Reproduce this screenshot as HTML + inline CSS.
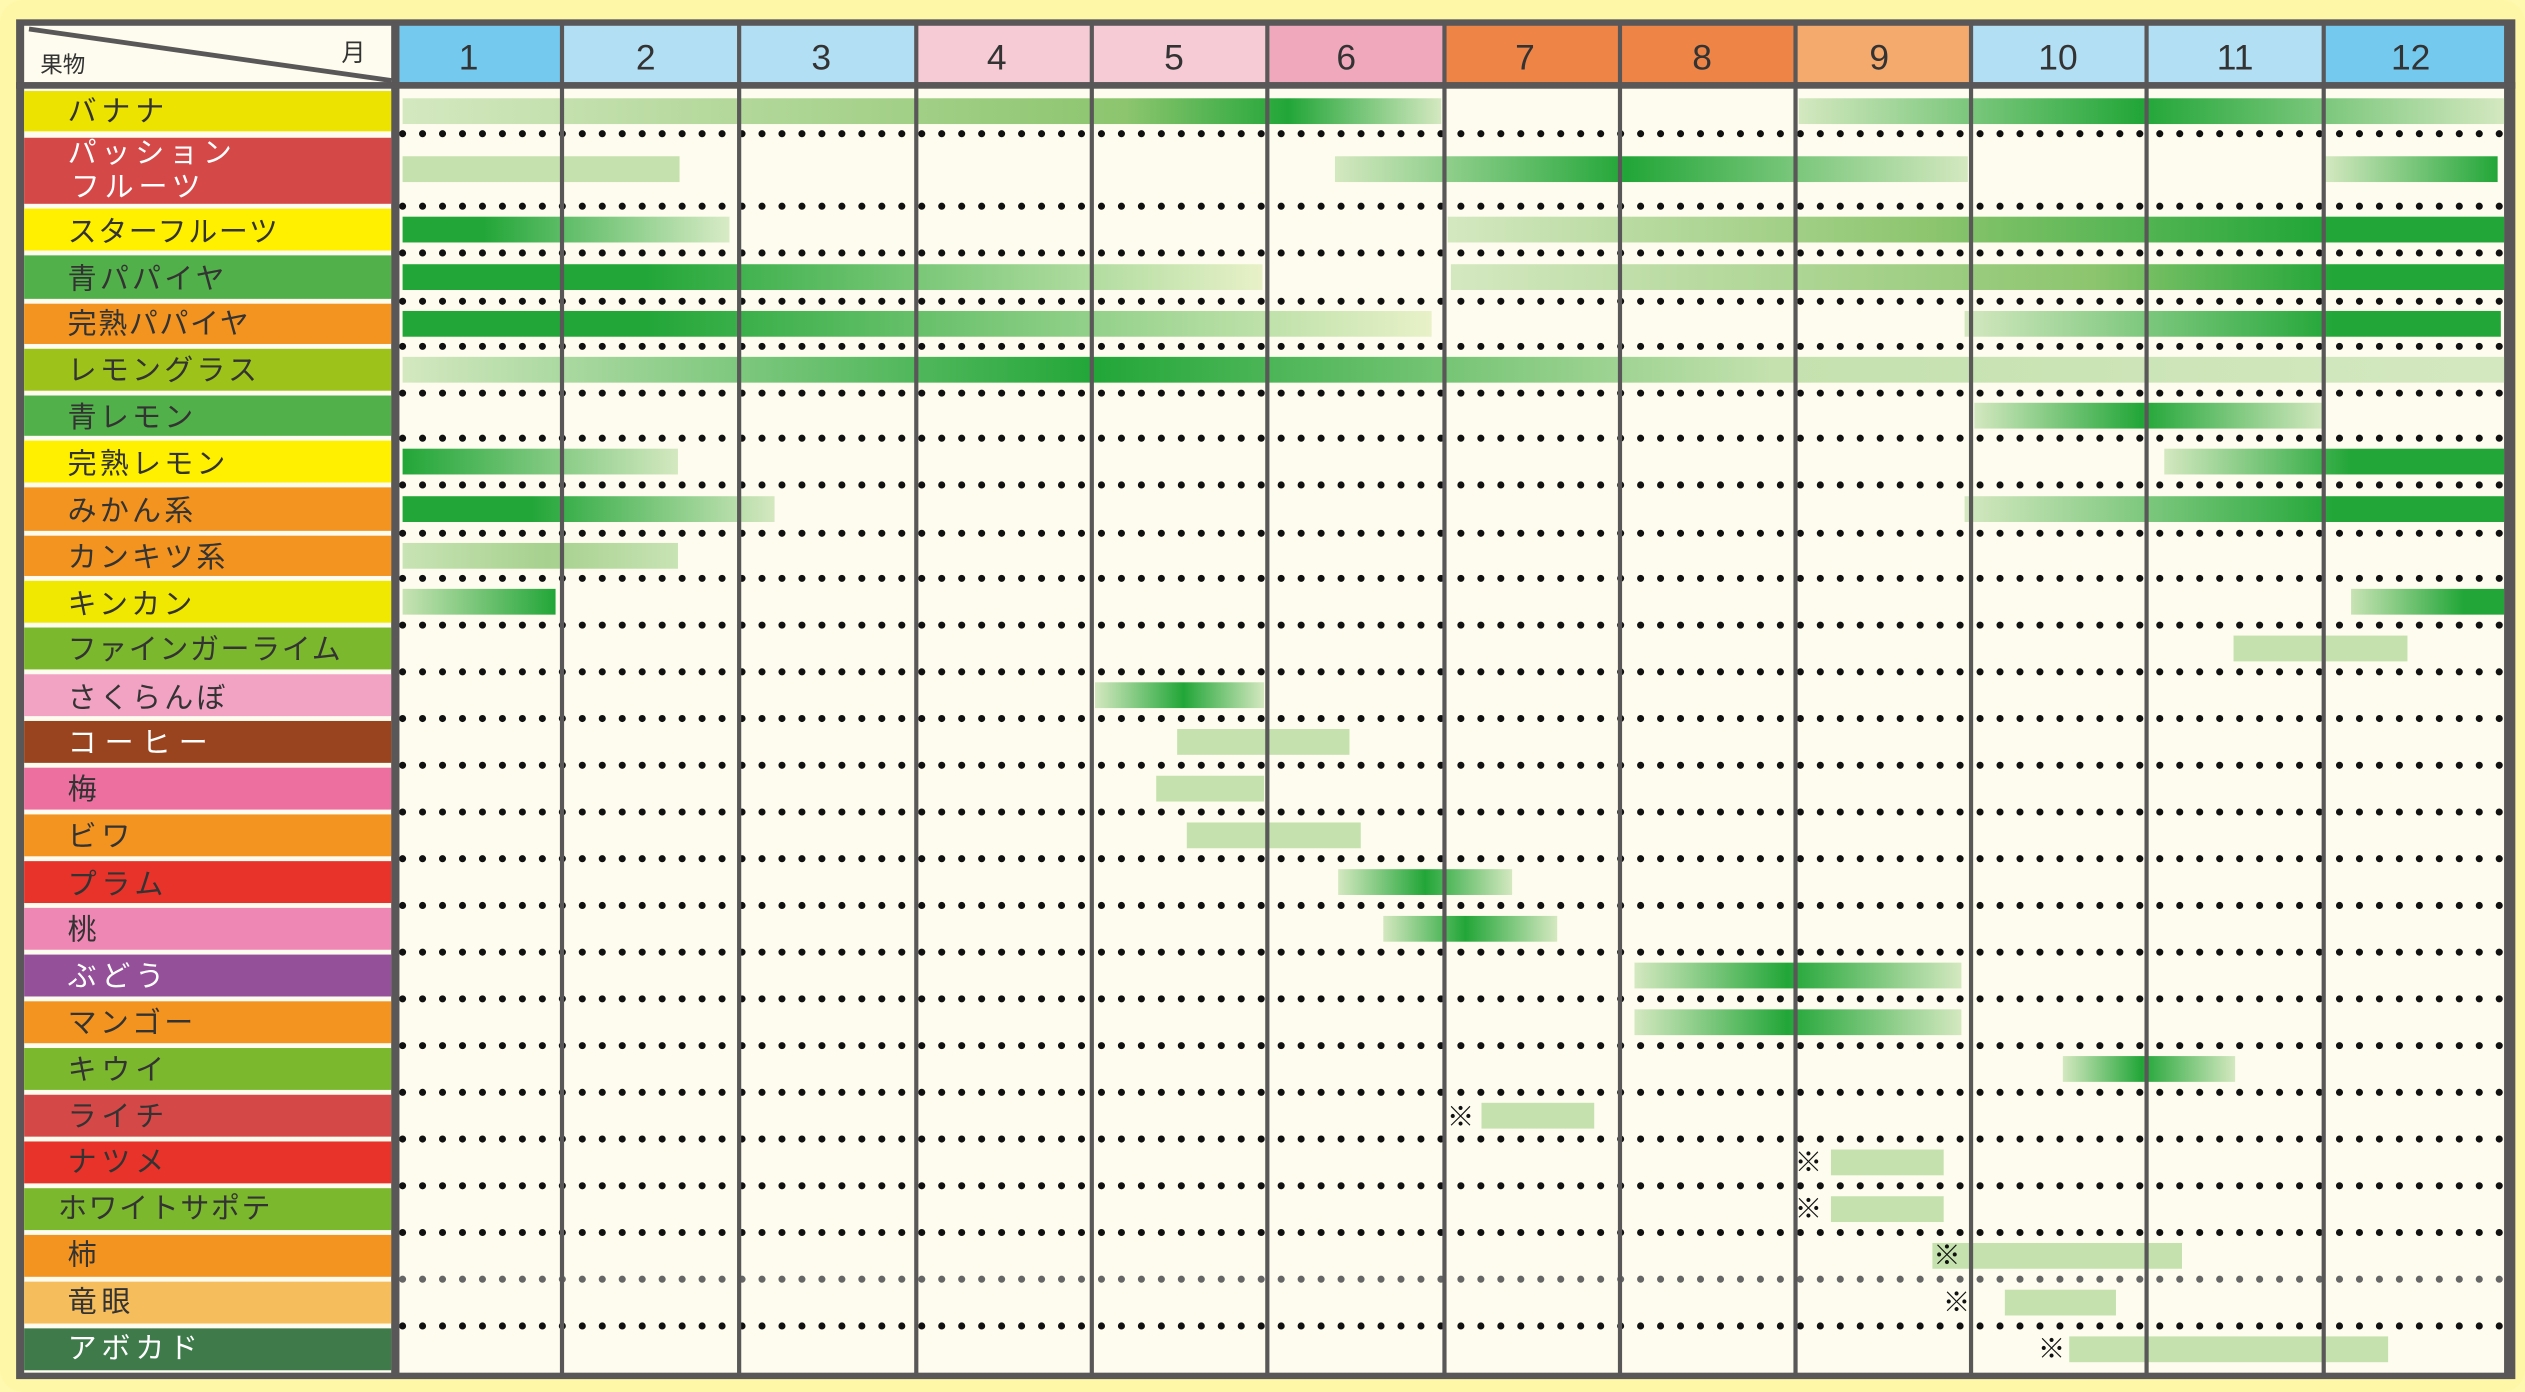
<!DOCTYPE html>
<html><head><meta charset="utf-8"><style>
html,body{margin:0;padding:0;background:#fff9b0;}
svg{display:block;}
text{font-family:"Liberation Sans","Noto Sans CJK JP",sans-serif;}
</style></head><body>
<svg id="s" width="2525" height="1392" viewBox="0 0 1568 864" preserveAspectRatio="none" xmlns="http://www.w3.org/2000/svg">
<defs id="d"></defs>
<rect x="0" y="0" width="1568" height="864" rx="14" fill="#fff7a8"/>
<rect x="10" y="12" width="1552" height="844" fill="#595757"/>
<rect x="15" y="16" width="228" height="35" fill="#fefcee"/>
<line x1="18" y1="18" x2="243" y2="50" stroke="#595757" stroke-width="3"/>
<text x="25" y="45" font-size="14" fill="#333">果物</text>
<text x="212" y="38" font-size="15" fill="#333">月</text>
<rect x="248" y="55" width="1307" height="797" fill="#fefcee"/>
<g id="hdr"></g>
<g id="lab"></g>
<g id="dots"></g>
<g id="bars"></g>
<g id="vl"></g>
<g id="txt" font-size="18" letter-spacing="3" fill="#333">
<text x="42" y="75">バナナ</text>
<text x="42" y="101" fill="#fff">パッション</text>
<text x="44" y="122" fill="#fff">フルーツ</text>
<text x="42" y="150" letter-spacing="1">スターフルーツ</text>
<text x="42" y="179" letter-spacing="2">青パパイヤ</text>
<text x="42" y="207" letter-spacing="1">完熟パパイヤ</text>
<text x="42" y="236" letter-spacing="2">レモングラス</text>
<text x="42" y="265" letter-spacing="2">青レモン</text>
<text x="42" y="294" letter-spacing="2">完熟レモン</text>
<text x="42" y="323" letter-spacing="2">みかん系</text>
<text x="42" y="352" letter-spacing="2">カンキツ系</text>
<text x="42" y="381" letter-spacing="2">キンカン</text>
<text x="42" y="409" letter-spacing="1">ファインガーライム</text>
<text x="42" y="439" letter-spacing="2">さくらんぼ</text>
<text x="42" y="467" fill="#fff" letter-spacing="5">コーヒー</text>
<text x="42" y="496">梅</text>
<text x="42" y="525">ビワ</text>
<text x="42" y="555">プラム</text>
<text x="42" y="583">桃</text>
<text x="42" y="612" fill="#fff">ぶどう</text>
<text x="42" y="641" letter-spacing="2">マンゴー</text>
<text x="42" y="670">キウイ</text>
<text x="42" y="699">ライチ</text>
<text x="42" y="727">ナツメ</text>
<text x="36" y="756" letter-spacing="1">ホワイトサポテ</text>
<text x="42" y="785">柿</text>
<text x="42" y="814">竜眼</text>
<text x="42" y="843" fill="#fff">アボカド</text>
</g>
<g font-size="22" fill="#333" text-anchor="middle">
<text x="291" y="43">1</text><text x="401" y="43">2</text><text x="510" y="43">3</text><text x="619" y="43">4</text><text x="729" y="43">5</text><text x="836" y="43">6</text><text x="947" y="43">7</text><text x="1057" y="43">8</text><text x="1167" y="43">9</text><text x="1278" y="43">10</text><text x="1388" y="43">11</text><text x="1497" y="43">12</text>
</g>
<g font-size="17" fill="#111" text-anchor="middle">
<text x="907" y="699">※</text><text x="1123" y="727">※</text><text x="1123" y="756">※</text><text x="1209" y="785">※</text><text x="1215" y="814">※</text><text x="1274" y="843">※</text>
</g>
</svg>
<script>
var NS="http://www.w3.org/2000/svg";
function el(t,a,p){var e=document.createElementNS(NS,t);for(var k in a)e.setAttribute(k,a[k]);document.getElementById(p).appendChild(e);return e;}
var mx=[248,349,459,569,678,787,897,1006,1115,1224,1333,1443,1555];
var hc=["#74c9ef","#b3dff5","#b3dff5","#f6cbd6","#f6cbd6","#f0a8bd","#ef8447","#ef8447","#f4a96d","#b3dff5","#b3dff5","#74c9ef"];
for(var i=0;i<12;i++)el("rect",{x:mx[i],y:16,width:mx[i+1]-mx[i],height:35,fill:hc[i]},"hdr");
var rows=[[55,83],[84,128],[128,157],[157,187],[187,215],[215,244],[244,272],[272,301],[301,331],[331,359],[359,388],[388,417],[417,446],[446,475],[475,504],[504,533],[533,562],[562,591],[591,620],[620,649],[649,678],[678,707],[707,736],[736,765],[765,794],[794,823],[823,852]];
var lc=["#ece400","#d44848","#fff000","#52b04a","#f39420","#9dc31a","#52b04a","#fff000","#f39420","#f39420","#f0e800","#7cb82e","#f2a3c4","#99441f","#ec6fa0","#f39420","#e8332b","#ee87b4","#95509a","#f39420","#7cb82e","#d44848","#e8332b","#7cb82e","#f39420","#f5bd5c","#3f7a4a"];
el("rect",{x:15,y:55,width:228,height:797,fill:"#fefcee"},"lab");
rows.forEach(function(r,i){el("rect",{x:15,y:r[0]+1.5,width:228,height:r[1]-r[0]-3,fill:lc[i]},"lab");
 if(i<rows.length-1)el("line",{x1:250,y1:r[1],x2:1555,y2:r[1],stroke:i==24?"#666":"#111","stroke-width":4.4,"stroke-dasharray":"0 12.4","stroke-linecap":"round"},"dots");});
var L="#c4e1ae",D="#22a638",M="#8cc56e",P="#e8f1c8";
var gid=0;
function bar(r,x1,x2,stops){var t=rows[r][0],b=rows[r][1],c=(t+b)/2,h=16;
 if(r==1)c=105;
 var fill;
 if(typeof stops=="string")fill=stops;else{var g=el("linearGradient",{id:"g"+gid,x1:0,y1:0,x2:1,y2:0},"d");
  stops.forEach(function(s){var st=document.createElementNS(NS,"stop");st.setAttribute("offset",Math.max(0,Math.min(1,(s[0]-x1)/(x2-x1))));st.setAttribute("stop-color",s[1]);g.appendChild(st);});
  fill="url(#g"+gid+")";gid++;}
 el("rect",{x:x1,y:c-h/2,width:x2-x1,height:h,fill:fill},"bars");}
bar(0,250,895,[[250,"#d4e8c0"],[700,M],[800,D],[895,"#d4e8c0"]]);
bar(0,1117,1555,[[1117,"#d4e8c0"],[1330,D],[1555,"#d4e8c0"]]);
bar(1,250,422,L);
bar(1,829,1222,[[829,"#d4e8c0"],[1010,D],[1222,"#d4e8c0"]]);
bar(1,1444,1551,[[1444,"#d4e8c0"],[1551,D]]);
bar(2,250,453,[[250,D],[300,D],[453,"#d8ebc6"]]);
bar(2,899,1555,[[899,"#d4e8c0"],[1200,M],[1440,D],[1555,D]]);
bar(3,250,784,[[250,D],[400,D],[784,P]]);
bar(3,901,1555,[[901,"#d4e8c0"],[1300,M],[1450,D],[1555,D]]);
bar(4,250,889,[[250,D],[400,D],[889,P]]);
bar(4,1220,1553,[[1220,"#d4e8c0"],[1450,D],[1553,D]]);
bar(5,250,1555,[[250,"#d4e8c0"],[680,D],[1100,L],[1555,"#d4e8c0"]]);
bar(6,1226,1443,[[1226,"#d4e8c0"],[1330,D],[1443,"#d4e8c0"]]);
bar(7,250,421,[[250,D],[421,"#d4e8c0"]]);
bar(7,1344,1555,[[1344,"#d4e8c0"],[1460,D],[1555,D]]);
bar(8,250,481,[[250,D],[330,D],[481,"#d4e8c0"]]);
bar(8,1220,1555,[[1220,"#d4e8c0"],[1450,D],[1555,D]]);
bar(9,250,421,[[250,"#c8e3b4"],[340,"#a6d18e"],[421,"#c8e3b4"]]);
bar(10,250,345,[[250,"#c8e3b4"],[345,D]]);
bar(10,1460,1555,[[1460,"#c8e3b4"],[1530,D],[1555,D]]);
bar(11,1387,1495,L);
bar(12,680,785,[[680,"#d4e8c0"],[735,D],[785,"#d4e8c0"]]);
bar(13,731,838,L);bar(14,718,785,L);bar(15,737,845,L);
bar(16,831,939,[[831,"#d4e8c0"],[885,D],[939,"#d4e8c0"]]);
bar(17,859,967,[[859,"#d4e8c0"],[910,D],[967,"#d4e8c0"]]);
bar(18,1015,1218,[[1015,"#d4e8c0"],[1110,D],[1218,"#d4e8c0"]]);
bar(19,1015,1218,[[1015,"#d4e8c0"],[1110,D],[1218,"#d4e8c0"]]);
bar(20,1281,1388,[[1281,"#d4e8c0"],[1330,D],[1388,"#d4e8c0"]]);
bar(21,920,990,L);bar(22,1137,1207,L);bar(23,1137,1207,L);
bar(24,1200,1355,L);bar(25,1245,1314,L);bar(26,1285,1483,L);
for(var i=1;i<12;i++)el("line",{x1:mx[i],y1:14,x2:mx[i],y2:854,stroke:"#595757","stroke-width":2.6},"vl");
el("rect",{x:243,y:14,width:5,height:840,fill:"#595757"},"vl");
el("rect",{x:10,y:51,width:1552,height:4,fill:"#595757"},"vl");
</script>
</body></html>
